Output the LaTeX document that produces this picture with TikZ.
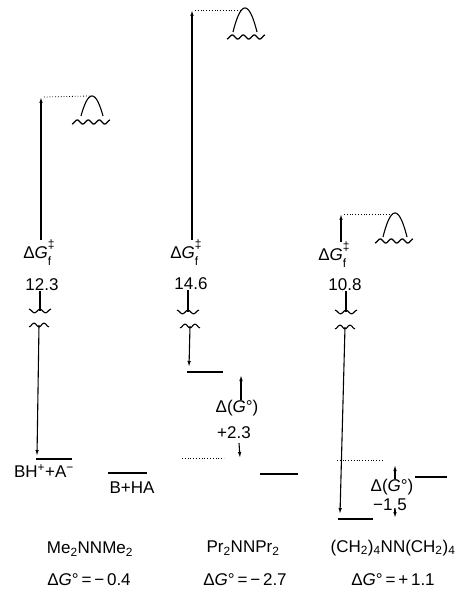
\documentclass[tikz,border=0pt]{standalone}
\usepackage{fontspec}
\setmainfont{Liberation Sans}
\usetikzlibrary{arrows.meta}
\newcommand\dGf{Δ\textit{G}\rlap{\raisebox{0.55em}{\fontsize{12}{12}\selectfont ‡}}\raisebox{-0.45em}{\fontsize{12}{12}\selectfont f}\hphantom{‡}}
\newcommand\dGo{Δ(\textit{G}°)}
\begin{document}
\begin{tikzpicture}[x=1pt,y=-1pt,
  lab/.style={font=\fontsize{17}{19}\selectfont, inner sep=0pt},
  ax/.style={line width=1.1pt},
  uparr/.style={ax,-{Latex[open,length=6pt,width=3.5pt]}},
  levelline/.style={line width=2pt},
  dotline/.style={dotted, line width=0.8pt},
  wavepic/.pic={\draw[line width=1.3pt] plot[domain=-19:19,samples=60,smooth] (\x,{2*sin(\x*360/11)});},
  humppic/.pic={\draw[line width=1.1pt] plot[domain=-12:12,samples=30,smooth] (\x,{-24*(1-(\x/12)^2)});},
  humpsmall/.pic={\draw[line width=1.1pt] plot[domain=-11:11,samples=30,smooth] (\x,{-20*(1-(\x/11)^2)});},
  brkA/.pic={\draw[line width=1.1pt] plot[domain=-11:11,samples=30,smooth] (\x,{-1.8*cos(\x*360/11)});},
  brkB/.pic={\draw[line width=1.1pt] plot[domain=-10:10,samples=30,smooth] (\x,{1.8*cos(\x*360/10)});},
]
\useasboundingbox (0,0) rectangle (463,593);

% ---------- column 1 ----------
\coordinate (t1) at (41,97);
\coordinate (d1) at (90,96);
\pic at (92,116) {humpsmall};
\pic at (91,122) {wavepic};
\node[lab] (g1) at (42,253) {\dGf};
\node[lab] (v1) at (42,285) {12.3};
\coordinate (s1a) at (40,311);
\coordinate (s1b) at (39,325);
\coordinate (b1) at (37,456);
\draw[uparr] (g1.north -| t1) -- (t1);
\draw[dotline] ([xshift=3pt]t1) -- (d1);
\draw[ax] (s1a |- v1.south) -- (s1a);
\pic at (s1a) {brkA};
\pic at (s1b) {brkB};
\draw[uparr] (s1b) -- (b1);
\coordinate (L1a) at (36,459);
\coordinate (L1b) at (72,459);
\draw[levelline] (L1a) -- (L1b);
\node[lab] (bh) at (44,471) {BH\textsuperscript{+}+A\textsuperscript{−}};
\coordinate (L0a) at (108,473);
\coordinate (L0b) at (147,473);
\draw[line width=1.8pt] (L0a) -- (L0b);
\node[lab] (bha) at (132,488) {B+HA};

% ---------- column 2 ----------
\coordinate (t2) at (192,10);
\coordinate (d2) at (242,10);
\pic at (245,32) {humppic};
\pic at (246,37) {wavepic};
\node[lab] (g2) at (189,253) {\dGf};
\node[lab] (v2) at (191,284) {14.6};
\coordinate (s2a) at (188,312);
\coordinate (s2b) at (190,326);
\coordinate (b2) at (189,367);
\draw[uparr] (g2.north -| t2) -- (t2);
\draw[dotline] ([xshift=3pt]t2) -- (d2);
\draw[ax] (s2a |- v2.south) -- (s2a);
\pic at (s2a) {brkA};
\pic at (s2b) {brkB};
\draw[uparr] (s2b) -- (b2);
\coordinate (L2a) at (187,372);
\coordinate (L2b) at (223,372);
\draw[levelline] (L2a) -- (L2b);
\node[lab] (o2) at (237,408) {\dGo};
\node[lab] (e2) at (234,433) {+2.3};
\coordinate (u2) at (241,375);
\coordinate (w2) at (240,458);
\draw[uparr] (o2.north -| u2) -- (u2);
\draw[uparr] (239,443) -- (w2);
\coordinate (P2a) at (182,458);
\coordinate (P2b) at (224,458);
\draw[dotline] (P2a) -- (P2b);
\coordinate (L2c) at (260,474);
\coordinate (L2d) at (298,474);
\draw[levelline] (L2c) -- (L2d);

% ---------- column 3 ----------
\coordinate (t3) at (341,214);
\coordinate (d3) at (392,214);
\pic at (395,237) {humppic};
\pic at (394,241) {wavepic};
\node[lab] (g3) at (337,255) {\dGf};
\node[lab] (v3) at (345,285) {10.8};
\coordinate (s3a) at (346,312);
\coordinate (s3b) at (345,327);
\coordinate (b3) at (340,514);
\draw[uparr] (g3.north -| t3) -- (t3);
\draw[dotline] ([xshift=3pt]t3) -- (d3);
\draw[ax] (s3a |- v3.south) -- (s3a);
\pic at (s3a) {brkA};
\pic at (s3b) {brkB};
\draw[uparr] (s3b) -- (b3);
\coordinate (L3a) at (338,519);
\coordinate (L3b) at (373,519);
\draw[levelline] (L3a) -- (L3b);
\coordinate (P3a) at (337,460);
\coordinate (P3b) at (383,460);
\draw[dotline] (P3a) -- (P3b);
\node[lab] (o3) at (392,487) {\dGo};
\node[lab] (e3) at (390,505) {−1.5};
\coordinate (u3) at (395,465);
\coordinate (w3) at (395,518);
\draw[uparr] (o3.north -| u3) -- (u3);
\draw[uparr] (395,510) -- (w3);
\coordinate (L3c) at (415,477);
\coordinate (L3d) at (447,477);
\draw[levelline] (L3c) -- (L3d);

% ---------- bottom labels ----------
\node[lab] (n1) at (90,549) {Me\textsubscript{2}NNMe\textsubscript{2}};
\node[lab] (m1) at (89,580) {Δ\textit{G}°\,=\,−\,0.4};
\node[lab] (n2) at (243,548) {Pr\textsubscript{2}NNPr\textsubscript{2}};
\node[lab] (m2) at (245,580) {Δ\textit{G}°\,=\,−\,2.7};
\node[lab] (n3) at (393,548) {(CH\textsubscript{2})\textsubscript{4}NN(CH\textsubscript{2})\textsubscript{4}};
\node[lab] (m3) at (393,580) {Δ\textit{G}°\,=\,+\,1.1};
\end{tikzpicture}
\end{document}
